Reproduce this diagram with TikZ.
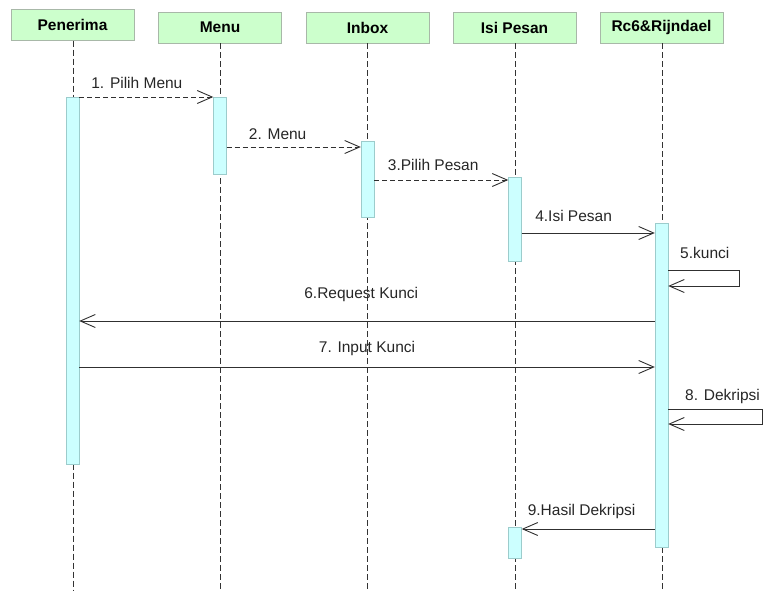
\documentclass[tikz,border=0pt]{standalone}
\usepackage{fontspec}
\setmainfont{Liberation Sans}
\usetikzlibrary{arrows.meta}
\definecolor{hdrfill}{HTML}{CCFFCC}
\definecolor{hdrline}{HTML}{A8B8A8}
\definecolor{actfill}{HTML}{CCFFFF}
\definecolor{actline}{HTML}{9CCCCC}
\definecolor{msgcol}{HTML}{303030}
\tikzset{
  hdr/.style={draw=hdrline, fill=hdrfill, minimum width=123pt, minimum height=31pt, inner sep=0pt, font=\fontsize{15.5}{17}\selectfont\bfseries},
  act/.style={draw=actline, fill=actfill, minimum width=13pt, inner sep=0pt},
  life/.style={draw=black!80, line width=0.8pt, dash pattern=on 6pt off 3pt},
  tip/.style={-{Straight Barb[length=15pt,width=13pt,line width=0.9pt]}},
  msg/.style={draw=msgcol, line width=0.9pt, tip},
  msgd/.style={msg, dash pattern=on 5pt off 3pt},
  lbl/.style={font=\fontsize{15.5}{17}\selectfont, text=black!85, inner sep=0pt, anchor=base}
}
\begin{document}
\begin{tikzpicture}[x=1pt,y=-1pt]
\useasboundingbox (0,0) rectangle (764,590);
% headers
\node[hdr] (hPen) at (72.5,25) {Penerima};
\node[hdr] (hMenu) at (220,27.5) {Menu};
\node[hdr] (hInb) at (367.5,27.5) {Inbox};
\node[hdr] (hIsi) at (514.5,27.5) {Isi Pesan};
\node[hdr] (hRc) at (661.5,27.5) {Rc6\&Rijndael};
% lifeline ends
\coordinate (ePen) at (73,590);
\coordinate (eMenu) at (220,590);
\coordinate (eInb) at (367,590);
\coordinate (eIsi) at (515,590);
\coordinate (eRc) at (662,590);
\draw[life] (hPen.south -| ePen) -- (ePen);
\draw[life] (hMenu.south -| eMenu) -- (eMenu);
\draw[life] (hInb.south -| eInb) -- (eInb);
\draw[life] (hIsi.south -| eIsi) -- (eIsi);
\draw[life] (hRc.south -| eRc) -- (eRc);
% activations
\node[act, minimum height=367pt] (aPen) at (72.5,280.5) {};
\node[act, minimum height=77pt] (aMenu) at (220,135.5) {};
\node[act, minimum height=76pt] (aInb) at (367.5,179) {};
\node[act, minimum height=84pt] (aIsi) at (515,219) {};
\node[act, minimum height=324pt] (aRc) at (661.5,385) {};
\node[act, minimum height=31pt] (aIsi2) at (515,542.5) {};
% messages
\draw[msgd] (aPen.east |- 0,97) -- node[lbl, pos=0.43, yshift=9pt] {1. Pilih Menu} (aMenu.west |- 0,97);
\draw[msgd] (aMenu.east |- 0,147) -- node[lbl, pos=0.38, yshift=8pt] {2. Menu} (aInb.west |- 0,147);
\draw[msgd] (aInb.east |- 0,180) -- node[lbl, pos=0.44, yshift=10pt] {3.Pilih Pesan} (aIsi.west |- 0,180);
\draw[msg] (aIsi.east |- 0,233) -- node[lbl, pos=0.39, yshift=12pt] {4.Isi Pesan} (aRc.west |- 0,233);
\coordinate (k1) at (739,270);
\coordinate (k2) at (739,286);
\draw[msg] (aRc.east |- k1) -- (k1) -- (k2) -- (aRc.east |- k2);
\node[lbl, anchor=base west] (l5) at (680,258) {5.kunci};
\draw[msg] (aRc.west |- 0,321) -- node[lbl, pos=0.51, yshift=23pt] {6.Request Kunci} (aPen.east |- 0,321);
\draw[msg] (aPen.east |- 0,367) -- node[lbl, pos=0.50, yshift=15pt] {7. Input Kunci} (aRc.west |- 0,367);
\coordinate (d1) at (762,409);
\coordinate (d2) at (762,424);
\draw[msg] (aRc.east |- d1) -- (d1) -- (d2) -- (aRc.east |- d2);
\node[lbl, anchor=base west] (l8) at (685,400.5) {8. Dekripsi};
\draw[msg] (aRc.west |- 0,529) -- node[lbl, pos=0.55, yshift=14pt] {9.Hasil Dekripsi} (aIsi2.east |- 0,529);
\end{tikzpicture}
\end{document}
